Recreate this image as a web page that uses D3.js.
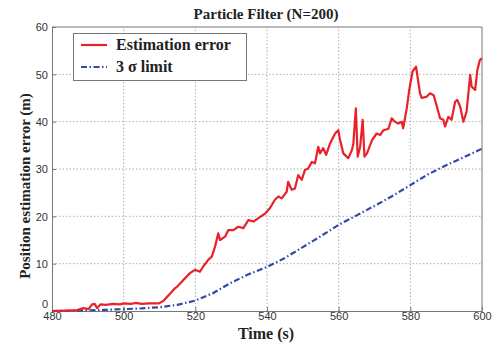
<!DOCTYPE html>
<html>
<head>
<meta charset="utf-8">
<script src="https://cdn.jsdelivr.net/npm/d3@7"></script>
<style>
  html, body { margin: 0; padding: 0; background: #fff; }
  svg { display: block; }
</style>
</head>
<body>
<svg id="chart" width="492" height="343"></svg>
<script>
// Time axis samples (s) and estimation error (m) for the particle filter run
const errTime = [480, 484, 487, 488.8, 490.2, 491.2, 491.9, 492.6, 493.5, 495, 497, 499, 500, 502, 503.3, 505, 507, 509.8,
  511.2, 512.6, 513.5, 514.3, 514.9, 516.6, 518.5, 519.9, 521.3, 522.2, 523.6, 524.6, 525.5, 526.4, 526.9,
  528.3, 529.2, 530.6, 532, 533.4, 534.8, 536.2, 538.1, 539.5, 540.8, 542.2, 543.2, 544.1, 545.5, 545.9,
  546.9, 547.8, 548.7, 549.7, 550.6, 551.5, 552.5, 553.4, 554.3, 554.8, 555.7, 556.5, 557.6, 559, 559.9,
  560.4, 561.3, 562.7, 563.7, 564.1, 564.8, 565.3, 566, 566.7, 567.2, 567.9, 569.3, 570.6, 571.6, 572.5,
  573.9, 574.8, 575.7, 576.6, 577.6, 578, 579, 579.7, 580.6, 581.6, 582, 582.7, 583.2, 584.6, 585.5,
  586.5, 587.4, 588.3, 589.2, 589.7, 590.6, 591.5, 592.5, 593.1, 593.9, 594.8, 595.7, 596.7, 597.1,
  598.1, 598.7, 599.4, 600];
const errValue = [0, 0.1, 0.2, 0.6, 0.4, 1.4, 1.5, 0.6, 1.4, 1.3, 1.5, 1.4, 1.6, 1.5, 1.7, 1.5, 1.6, 1.6,
  2.2, 3.4, 4.1, 4.8, 5.1, 6.5, 8.0, 8.7, 8.3, 9.4, 10.8, 11.5, 13.6, 16.4, 15.0,
  15.7, 17.1, 17.1, 17.8, 17.5, 19.2, 18.9, 19.9, 20.6, 21.7, 23.5, 24.2, 23.8, 25.2, 27.3,
  25.6, 25.9, 28.7, 27.7, 29.8, 30.1, 31.5, 31.2, 34.7, 33.3, 34.4, 33.0, 35.4, 37.5, 38.2,
  36.1, 33.3, 32.3, 34.0, 35.4, 42.8, 32.6, 34.7, 40.4, 32.6, 33.3, 36.1, 37.5, 37.2, 38.2,
  38.5, 40.7, 40.0, 39.6, 40.0, 38.6, 42.8, 46.7, 50.6, 51.6, 49.5, 46.0, 45.0, 45.3, 46.0,
  45.6, 43.2, 40.7, 40.4, 39.0, 41.0, 40.4, 44.2, 44.6, 43.2, 40.0, 42.1, 49.9, 47.4,
  46.7, 50.9, 53.0, 53.4];

// 3-sigma bound (m)
const sigmaTime = [480, 485, 490, 495, 500, 505, 510, 515, 520, 525, 530, 535, 540, 545, 550, 555, 560, 565, 570, 575, 580, 585, 590, 595, 600];
const sigmaValue = [0, 0.05, 0.15, 0.25, 0.4, 0.55, 0.8, 1.3, 2.2, 3.8, 6.0, 7.8, 9.3, 11.2, 13.5, 15.8, 18.2, 20.2, 22.2, 24.3, 26.6, 28.9, 30.8, 32.5, 34.3];

const xTicks = [480, 500, 520, 540, 560, 580, 600];
const yTicks = [0, 10, 20, 30, 40, 50, 60];

const chartTitle = "Particle Filter (N=200)";
const xLabel = "Time (s)";
const yLabel = "Position estimation error (m)";
const legendLabels = ["Estimation error", "3 \u03c3 limit"];

const margin = { left: 52, right: 10, top: 27, bottom: 32 };
const W = 492, H = 343;
const svg = d3.select("#chart");

const x = d3.scaleLinear().domain([480, 600]).range([margin.left, W - margin.right]);
const y = d3.scaleLinear().domain([0, 60]).range([H - margin.bottom, margin.top]);

const serif = "'Liberation Serif', 'DejaVu Serif', serif";
const sans = "'Liberation Sans', Arial, sans-serif";

// Dotted grid
const grid = svg.append("g");
grid.selectAll("line.vx").data(xTicks.slice(1, -1)).enter().append("line")
  .attr("x1", d => x(d)).attr("x2", d => x(d))
  .attr("y1", y(0)).attr("y2", y(60))
  .attr("stroke", "#9a9a9a").attr("stroke-width", 0.8).attr("stroke-dasharray", "1.5,2");
grid.selectAll("line.hy").data(yTicks.slice(1, -1)).enter().append("line")
  .attr("y1", d => y(d)).attr("y2", d => y(d))
  .attr("x1", x(480)).attr("x2", x(600))
  .attr("stroke", "#9a9a9a").attr("stroke-width", 0.8).attr("stroke-dasharray", "1.5,2");

// Axes with inward ticks
const xAxis = d3.axisBottom(x).tickValues(xTicks).tickSize(-4).tickPadding(2).tickFormat(d3.format("d"));
const yAxis = d3.axisLeft(y).tickValues(yTicks).tickSize(-4).tickPadding(4).tickFormat(d3.format("d"));
const xAx = svg.append("g").attr("transform", `translate(0,${y(0)})`).call(xAxis);
const yAx = svg.append("g").attr("transform", `translate(${x(480)},0)`).call(yAxis);
[xAx, yAx].forEach(g => {
  g.select(".domain").attr("stroke", "#777");
  g.selectAll(".tick line").attr("stroke", "#777");
  g.selectAll(".tick text").attr("font-family", sans).attr("font-size", 11).attr("fill", "#333");
});
xAx.selectAll(".tick text").attr("dy", "0.68em");
yAx.selectAll(".tick text").attr("dy", "0.35em");
// zero label sits just above the corner, clear of the first time label
yAx.selectAll(".tick text").filter(d => d === 0).attr("dy", "-0.35em");

// Frame top and right
svg.append("line").attr("x1", x(480)).attr("x2", x(600)).attr("y1", y(60)).attr("y2", y(60)).attr("stroke", "#777");
svg.append("line").attr("x1", x(600)).attr("x2", x(600)).attr("y1", y(60)).attr("y2", y(0)).attr("stroke", "#777");

// Series
const sigmaLine = d3.line().x((d, i) => x(sigmaTime[i])).y(d => y(d));
const errLine = d3.line().x((d, i) => x(errTime[i])).y(d => y(d));

svg.append("path").datum(sigmaValue).attr("d", sigmaLine)
  .attr("fill", "none").attr("stroke", "#3548a8").attr("stroke-width", 2.2)
  .attr("stroke-dasharray", "6,2.5,1.5,2.5");
svg.append("path").datum(errValue).attr("d", errLine)
  .attr("fill", "none").attr("stroke", "#ea2129").attr("stroke-width", 2.2)
  .attr("stroke-linejoin", "round");

// Titles
svg.append("text").attr("x", 266).attr("y", 19).attr("text-anchor", "middle")
  .attr("font-family", serif).attr("font-weight", "bold").attr("font-size", 15).attr("fill", "#222")
  .text(chartTitle);
svg.append("text").attr("x", 266).attr("y", 339).attr("text-anchor", "middle")
  .attr("font-family", serif).attr("font-weight", "bold").attr("font-size", 16).attr("fill", "#222")
  .text(xLabel);
svg.append("text").attr("transform", "translate(30,186) rotate(-90)").attr("text-anchor", "middle")
  .attr("font-family", serif).attr("font-weight", "bold").attr("font-size", 15).attr("fill", "#222")
  .text(yLabel);

// Legend
const lg = svg.append("g");
lg.append("rect").attr("x", 73.5).attr("y", 33.5).attr("width", 173).attr("height", 47)
  .attr("fill", "#fff").attr("stroke", "#777").attr("stroke-width", 1);
const legendStyles = [
  { stroke: "#ea2129", dash: null },
  { stroke: "#3548a8", dash: "6,2.5,1.5,2.5" }
];
legendLabels.forEach((lab, i) => {
  const cy = 45 + i * 22;
  lg.append("line").attr("x1", 81).attr("x2", 107).attr("y1", cy).attr("y2", cy)
    .attr("stroke", legendStyles[i].stroke).attr("stroke-width", 2.2)
    .attr("stroke-dasharray", legendStyles[i].dash);
  lg.append("text").attr("x", 116).attr("y", cy + 5)
    .attr("font-family", serif).attr("font-weight", "bold").attr("font-size", 16).attr("fill", "#222")
    .text(lab);
});
</script>
</body>
</html>
